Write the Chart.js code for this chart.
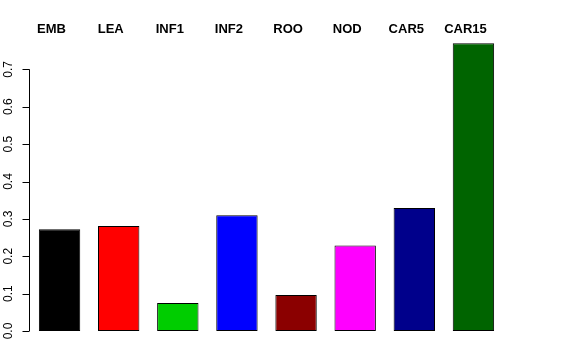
<!DOCTYPE html>
<html>
<head>
<meta charset="utf-8">
<script src="https://cdn.jsdelivr.net/npm/chart.js@4/dist/chart.umd.min.js"></script>
<style>
  html, body { margin: 0; padding: 0; background: #fff; }
  #wrap { width: 576px; height: 360px; }
</style>
</head>
<body>
<div id="wrap"><canvas id="bars"></canvas></div>
<script>
const categories = ['EMB', 'LEA', 'INF1', 'INF2', 'ROO', 'NOD', 'CAR5', 'CAR15'];
const values = [0.272, 0.281, 0.075, 0.310, 0.096, 0.229, 0.329, 0.770];
const barColors = ['#000000', '#ff0000', '#00cd00', '#0000ff', '#8b0000', '#ff00ff', '#00008b', '#006400'];
const yTicks = [0.0, 0.1, 0.2, 0.3, 0.4, 0.5, 0.6, 0.7];

// R-style axis: line from first to last tick, rotated labels, names on top
const rAxis = {
    id: 'rAxis',
    afterDraw(chart) {
        const c = chart.ctx;
        const y = chart.scales.y;
        const x = chart.scales.x;
        const ax = chart.chartArea.left - 0.5;
        c.save();
        c.strokeStyle = '#000';
        c.lineWidth = 1;
        c.beginPath();
        c.moveTo(ax, y.getPixelForValue(yTicks[0]));
        c.lineTo(ax, y.getPixelForValue(yTicks[yTicks.length - 1]));
        yTicks.forEach(t => {
            const py = Math.round(y.getPixelForValue(t)) + 0.5;
            c.moveTo(ax, py);
            c.lineTo(ax - 7, py);
        });
        c.stroke();

        c.fillStyle = '#000';
        c.font = '12px "Liberation Sans", Arial, sans-serif';
        c.textAlign = 'center';
        c.textBaseline = 'middle';
        yTicks.forEach(t => {
            c.save();
            c.translate(ax - 21, y.getPixelForValue(t));
            c.rotate(-Math.PI / 2);
            c.fillText(t.toFixed(1), 0, 0);
            c.restore();
        });

        c.font = 'bold 13px "Liberation Sans", Arial, sans-serif';
        categories.forEach((name, i) => {
            c.fillText(name, x.getPixelForValue(i) - 8, chart.chartArea.top - 2.5);
        });
        c.restore();
    }
};

new Chart(document.getElementById('bars'), {
    type: 'bar',
    data: {
        labels: categories,
        datasets: [{
            data: values,
            backgroundColor: barColors,
            borderColor: '#000',
            borderWidth: 1,
            borderSkipped: false,
            categoryPercentage: 1.0,
            barPercentage: 0.7
        }]
    },
    options: {
        responsive: true,
        maintainAspectRatio: false,
        animation: false,
        layout: { padding: { left: 30, right: 73, top: 32, bottom: 29 } },
        scales: {
            x: { display: false },
            y: { display: false, min: 0, max: 0.8 }
        },
        plugins: { legend: { display: false }, tooltip: { enabled: false } }
    },
    plugins: [rAxis]
});
</script>
</body>
</html>
